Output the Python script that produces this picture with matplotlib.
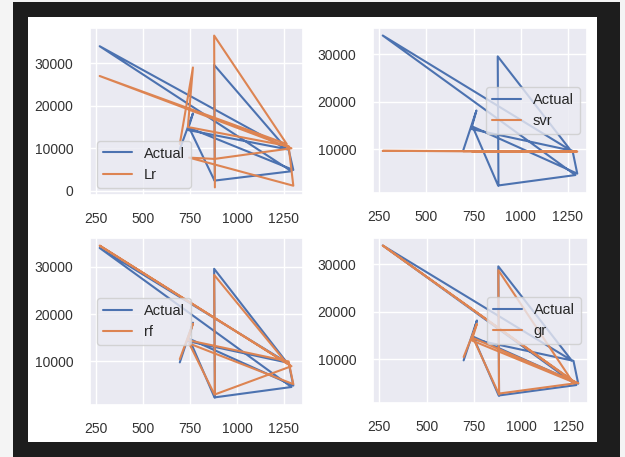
import matplotlib
matplotlib.use("Agg")
import matplotlib.pyplot as plt
import seaborn as sns
from matplotlib.patches import Rectangle

sns.set_theme(style="darkgrid")
plt.rcParams["font.family"] = ["Liberation Sans", "DejaVu Sans"]

# test-set feature values (in original row order) and the target
x_vals = [695, 765, 738, 1275, 1300, 745, 880, 1290, 268, 1265, 878, 882]
actual = [9800, 18200, 14300, 9700, 4900, 14800, 2400, 4600, 34000, 9800, 29600, 2400]

# model predictions for the same rows
pred_lr = [11000, 29000, 15000, 10500, 1200, 7800, 7500, 10000, 27000, 11000, 36500, 800]
pred_svr = [9620, 9660, 9640, 9560, 9550, 9640, 9600, 9550, 9700, 9560, 9610, 9600]
pred_rf = [10500, 18000, 14500, 10000, 5200, 13800, 3000, 9000, 34500, 9600, 28300, 3200]
pred_gr = [10500, 17500, 14000, 5200, 5000, 14500, 2800, 5000, 34000, 5600, 28800, 2600]

models = [("Lr", pred_lr, "lower left"), ("svr", pred_svr, "center right"),
          ("rf", pred_rf, "center left"), ("gr", pred_gr, "center right")]

W, H = 625, 457
fig = plt.figure(figsize=(W / 100, H / 100), dpi=100)
fig.patch.set_facecolor("#f4f4f4")

# dark frame around the white canvas
fig.add_artist(Rectangle((13 / W, 0), 607 / W, 1 - 2 / H, transform=fig.transFigure,
                         facecolor="#1d1d1d", edgecolor="none", zorder=0))
fig.add_artist(Rectangle((28 / W, 1 - 442 / H), 569 / W, 425 / H, transform=fig.transFigure,
                         facecolor="white", edgecolor="none", zorder=0))

boxes = [(90, 28, 303, 195), (373, 28, 587, 193), (90, 238, 303, 405), (373, 238, 588, 403)]

for (name, pred, loc), (l, t, r, b) in zip(models, boxes):
    ax = fig.add_axes([l / W, 1 - b / H, (r - l) / W, (b - t) / H])
    ax.plot(x_vals, actual, label="Actual", lw=1.5)
    ax.plot(x_vals, pred, label=name, lw=1.5)
    ax.set_xticks([250, 500, 750, 1000, 1250])
    ax.tick_params(labelsize=10, colors="#333333", pad=6)
    ax.legend(loc=loc, fontsize=10.5)

fig.savefig("out.png", dpi=100, facecolor=fig.get_facecolor())
